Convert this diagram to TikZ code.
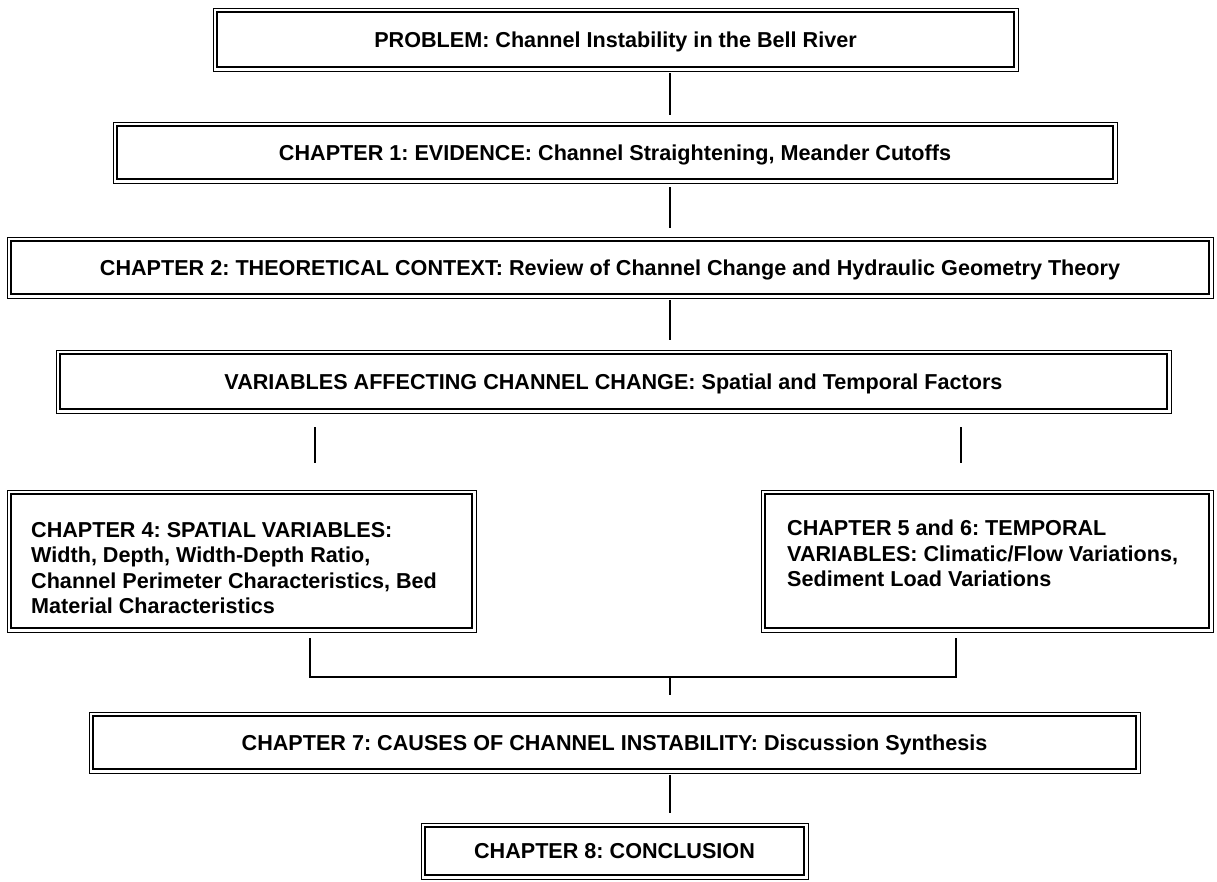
\documentclass[tikz,border=0pt]{standalone}
\usepackage{fontspec}
\setmainfont{Liberation Sans}
\newcommand\mytxt{\bfseries\fontsize{21.6}{25.5}\selectfont}
\frenchspacing
\begin{document}
\begin{tikzpicture}[x=1pt,y=-1pt,
  dbox/.style={draw, line width=2pt, inner sep=0pt, font=\mytxt, text height=16pt, text depth=0.5pt},
  outerb/.style={line width=1pt},
  conn/.style={line width=2pt},
  lbl/.style={font=\mytxt, align=left, inner sep=0pt, anchor=north west}]
\useasboundingbox[fill=white] (0,0) rectangle (1217,881);

\node[dbox, minimum width=797, minimum height=55] (P) at (615.5,39.5) {PROBLEM: Channel Instability in the Bell River};
\node[dbox, minimum width=996, minimum height=53] (C1) at (615,152.5) {CHAPTER 1: EVIDENCE: Channel Straightening, Meander Cutoffs};
\node[dbox, minimum width=1198, minimum height=53] (C2) at (610,267.5) {CHAPTER 2: THEORETICAL CONTEXT: Review of Channel Change and Hydraulic Geometry Theory};
\node[dbox, minimum width=1107, minimum height=55] (V) at (613.5,381.5) {VARIABLES AFFECTING CHANNEL CHANGE: Spatial and Temporal Factors};
\node[dbox, minimum width=461, minimum height=134] (C4) at (241.5,561) {};
\node[dbox, minimum width=444, minimum height=134] (C5) at (987,561) {};
\node[dbox, minimum width=1043, minimum height=53] (C7) at (614.5,742.5) {CHAPTER 7: CAUSES OF CHANNEL INSTABILITY: Discussion Synthesis};
\node[dbox, minimum width=379, minimum height=48] (C8) at (614.5,851) {CHAPTER 8: CONCLUSION};

\node[lbl] (T4) at (31,522) {CHAPTER 4: SPATIAL VARIABLES:\\Width, Depth, Width-Depth Ratio,\\Channel Perimeter Characteristics, Bed\\Material Characteristics};
\node[lbl] (T5) at (787,520) {CHAPTER 5 and 6: TEMPORAL\\VARIABLES: Climatic/Flow Variations,\\Sediment Load Variations};

\foreach \n in {P,C1,C2,V,C4,C5,C7,C8}
  \draw[outerb] ([shift={(-3,-3)}]\n.north west) rectangle ([shift={(3,3)}]\n.south east);

\coordinate (cx) at (670,0);
\coordinate (lx) at (315,0);
\coordinate (rx) at (961,0);
\coordinate (bl) at (310,0);
\coordinate (br) at (956,0);
\coordinate (bj) at (670,677);

\draw[conn, shorten <=5pt, shorten >=10pt] (P.south -| cx) -- (C1.north -| cx);
\draw[conn, shorten <=7pt, shorten >=12pt] (C1.south -| cx) -- (C2.north -| cx);
\draw[conn, shorten <=5pt, shorten >=13pt] (C2.south -| cx) -- (V.north -| cx);
\draw[conn, shorten <=17pt, shorten >=30pt] (V.south -| lx) -- (C4.north -| lx);
\draw[conn, shorten <=17pt, shorten >=30pt] (V.south -| rx) -- (C5.north -| rx);
\draw[conn, shorten <=9pt, shorten >=9pt] (C4.south -| bl) |- (bj) -| (C5.south -| br);
\draw[conn, shorten >=20pt] (bj) -- (C7.north -| bj);
\draw[conn, shorten <=5pt, shorten >=13pt] (C7.south -| cx) -- (C8.north -| cx);
\end{tikzpicture}
\end{document}
